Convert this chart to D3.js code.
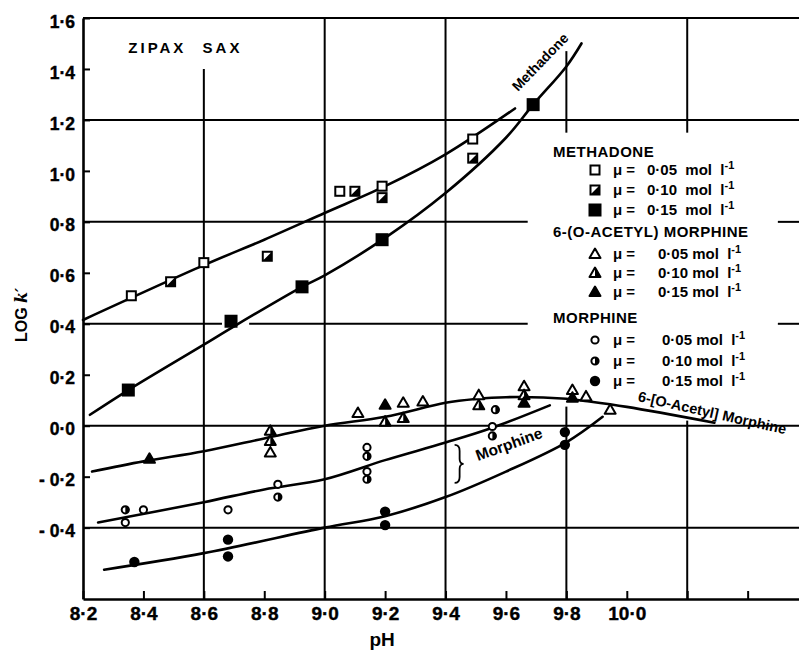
<!DOCTYPE html>
<html>
<head>
<meta charset="utf-8">
<script src="https://cdn.jsdelivr.net/npm/d3@7"></script>
<style>
body { margin: 0; background: #fff; }
svg { display: block; font-family: "Liberation Sans", Arial, sans-serif; font-weight: bold; }
</style>
</head>
<body>
<svg id="chart" width="799" height="652"></svg>
<script>
// measured points, [pH, log k']
var methadone05 = [[8.36, 0.51], [8.60, 0.64], [9.05, 0.92], [9.19, 0.94], [9.49, 1.125]];
var methadone10 = [[8.49, 0.565], [8.81, 0.665], [9.10, 0.92], [9.19, 0.895], [9.49, 1.05]];
var methadone15 = [[8.35, 0.14], [8.69, 0.41], [8.925, 0.545], [9.19, 0.73], [9.69, 1.26]];

var acetyl05 = [[8.82, -0.105], [9.11, 0.05], [9.26, 0.09], [9.325, 0.095], [9.51, 0.12], [9.66, 0.155], [9.82, 0.14], [9.865, 0.115], [9.945, 0.063]];
var acetyl10 = [[8.82, -0.02], [8.82, -0.06], [9.20, 0.016], [9.26, 0.03], [9.51, 0.08], [9.66, 0.12]];
var acetyl15 = [[8.42, -0.13], [9.20, 0.082], [9.66, 0.09], [9.82, 0.11]];

var morphine05 = [[8.34, -0.38], [8.40, -0.33], [8.68, -0.33], [8.845, -0.23], [9.14, -0.085], [9.14, -0.18], [9.555, -0.003]];
var morphine10 = [[8.34, -0.33], [8.845, -0.28], [9.14, -0.12], [9.14, -0.21], [9.555, -0.04], [9.565, 0.063]];
var morphine15 = [[8.37, -0.535], [8.68, -0.447], [8.68, -0.513], [9.20, -0.337], [9.20, -0.39], [9.795, -0.025], [9.795, -0.075]];

// hand drawn curves
var curveMethadoneUpper = [[8.2, 0.415], [8.6, 0.63], [8.8, 0.73], [9.0, 0.835], [9.2, 0.94], [9.4, 1.065], [9.63, 1.245]];
var curveMethadoneLower = [[8.223, 0.043], [8.35, 0.14], [8.6, 0.318], [8.7, 0.39], [8.925, 0.545], [9.0, 0.59], [9.2, 0.737], [9.4, 0.913], [9.6, 1.13], [9.69, 1.26], [9.8, 1.41], [9.85, 1.5]];
var curveAcetyl = [[8.23, -0.18], [8.4, -0.14], [8.6, -0.10], [8.8, -0.05], [9.0, 0.0], [9.2, 0.035], [9.4, 0.09], [9.5, 0.105], [9.6, 0.112], [9.8, 0.106], [9.87, 0.096], [10.0, 0.074], [10.29, 0.012]];
var curveMorphineUpper = [[8.25, -0.38], [8.6, -0.30], [8.8, -0.25], [9.0, -0.21], [9.2, -0.135], [9.4, -0.066], [9.55, -0.01], [9.745, 0.08]];
var curveMorphineLower = [[8.27, -0.565], [8.6, -0.5], [9.0, -0.4], [9.2, -0.355], [9.4, -0.28], [9.6, -0.18], [9.8, -0.065], [9.92, 0.035]];

var xTickValues = [8.2, 8.4, 8.6, 8.8, 9.0, 9.2, 9.4, 9.6, 9.8, 10.0, 10.2, 10.4];
var xLabelled = [8.2, 8.4, 8.6, 8.8, 9.0, 9.2, 9.4, 9.6, 9.8, 10.0];
var yTickValues = [-0.4, -0.2, 0.0, 0.2, 0.4, 0.6, 0.8, 1.0, 1.2, 1.4, 1.6];

var legendGroups = ["METHADONE", "6-(O-ACETYL) MORPHINE", "MORPHINE"];
var ionicStrengths = ["0·05", "0·10", "0·15"];

var svg = d3.select("#chart");
var x = d3.scaleLinear().domain([8.2, 10.57]).range([83, 799]);
var y = d3.scaleLinear().domain([-0.68, 1.6]).range([599, 18]);

function fmt(d) {
	var s = d3.format(".1f")(Math.abs(d)).replace(".", "·");
	return d < -1e-9 ? "- " + s : s;
}

// grid pieces, some are interrupted by the key and the labels
var gridV = [
	{ at: 8.6, from: 1.4, to: -0.68 },
	{ at: 9.0, from: 1.6, to: -0.68 },
	{ at: 9.4, from: 1.6, to: -0.68 },
	{ at: 9.8, from: 1.47, to: 1.15 },
	{ at: 9.8, from: 0.075, to: -0.68 },
	{ at: 10.2, from: 1.6, to: 1.15 },
	{ at: 10.2, from: 0.02, to: -0.68 }
];
var gridH = [
	{ at: 1.6, from: 8.2, to: 10.57 },
	{ at: 1.2, from: 8.2, to: 10.57 },
	{ at: 0.8, from: 8.2, to: 9.672 },
	{ at: 0.8, from: 10.5, to: 10.57 },
	{ at: 0.4, from: 8.2, to: 8.66 },
	{ at: 0.4, from: 8.75, to: 9.672 },
	{ at: 0.4, from: 10.5, to: 10.57 },
	{ at: 0.0, from: 8.2, to: 10.57 },
	{ at: -0.4, from: 8.2, to: 10.57 }
];

var grid = svg.append("g").attr("stroke", "#000").attr("stroke-width", 2);
grid.selectAll("line.v").data(gridV).enter().append("line")
	.attr("x1", function(d) { return x(d.at); }).attr("x2", function(d) { return x(d.at); })
	.attr("y1", function(d) { return y(d.from); }).attr("y2", function(d) { return y(d.to); });
grid.selectAll("line.h").data(gridH).enter().append("line")
	.attr("y1", function(d) { return y(d.at); }).attr("y2", function(d) { return y(d.at); })
	.attr("x1", function(d) { return x(d.from); }).attr("x2", function(d) { return x(d.to); });

// axes
var xAxis = svg.append("g")
	.attr("transform", "translate(0," + y(-0.68) + ")")
	.call(d3.axisBottom(x).tickValues(xTickValues).tickSize(-8).tickSizeOuter(0).tickPadding(8)
		.tickFormat(function(d) { return xLabelled.indexOf(d) >= 0 ? fmt(d) : ""; }));
var yAxis = svg.append("g")
	.attr("transform", "translate(" + x(8.2) + ",0)")
	.call(d3.axisLeft(y).tickValues(yTickValues).tickSize(-7).tickSizeOuter(0).tickPadding(8).tickFormat(fmt));

[xAxis, yAxis].forEach(function(a) {
	a.select(".domain").attr("stroke", "#000").attr("stroke-width", 2.6);
	a.selectAll(".tick line").attr("stroke", "#000").attr("stroke-width", 2);
	a.selectAll("text").attr("fill", "#000").attr("font-family", "Liberation Sans, Arial, sans-serif").attr("font-weight", "bold")
		.attr("stroke", "#000").attr("stroke-width", 0.4);
});
xAxis.selectAll("text").attr("font-size", 19);
yAxis.selectAll("text").attr("font-size", 17.5).attr("dy", "0.52em");

// axis titles
svg.append("text")
	.attr("x", x(9.19)).attr("y", 646)
	.attr("text-anchor", "middle").attr("font-size", 19)
	.text("pH");
var ytitle = svg.append("text")
	.attr("transform", "translate(27," + y(0.435) + ") rotate(-90)")
	.attr("text-anchor", "middle").attr("font-size", 16);
ytitle.append("tspan").text("LOG ");
ytitle.append("tspan").attr("font-style", "italic").attr("font-family", "DejaVu Serif, serif").text("k′");

svg.append("text")
	.attr("x", x(8.35)).attr("y", y(1.463))
	.attr("font-size", 15).attr("letter-spacing", 3).attr("word-spacing", 9)
	.text("ZIPAX SAX");

// curves
var line = d3.line()
	.x(function(d) { return x(d[0]); })
	.y(function(d) { return y(d[1]); })
	.curve(d3.curveCatmullRom.alpha(0.5));
svg.append("g").attr("fill", "none").attr("stroke", "#000").attr("stroke-width", 2.6).attr("stroke-linecap", "round")
	.selectAll("path")
	.data([curveMethadoneUpper, curveMethadoneLower, curveAcetyl, curveMorphineUpper, curveMorphineLower])
	.enter().append("path")
	.attr("d", line);

// markers
function marker(g, shape, fill, cx, cy) {
	var m = g.append("g").attr("transform", "translate(" + cx + "," + cy + ")");
	if (shape == "square") {
		var s = fill == "full" ? 5.5 : 4.5;
		m.append("rect").attr("x", -s).attr("y", -s).attr("width", 2 * s).attr("height", 2 * s)
			.attr("fill", fill == "full" ? "#000" : "#fff").attr("stroke", "#000").attr("stroke-width", 2);
		if (fill == "half") {
			m.append("path").attr("d", "M4.5,-4.5L4.5,4.5L-4.5,4.5Z").attr("fill", "#000");
		}
	}
	else if (shape == "triangle") {
		var p = "M0,-5.5L5.5,4L-5.5,4Z";
		m.append("path").attr("d", p)
			.attr("fill", fill == "full" ? "#000" : "#fff").attr("stroke", "#000").attr("stroke-width", 2).attr("stroke-linejoin", "round");
		if (fill == "half") {
			m.append("path").attr("d", "M0,-5.5L5.5,4L0,4Z").attr("fill", "#000");
		}
	}
	else {
		if (fill == "full") {
			m.append("circle").attr("r", 5.2).attr("fill", "#000");
		}
		else {
			m.append("circle").attr("r", 3.6).attr("fill", "#fff").attr("stroke", "#000").attr("stroke-width", 2);
			if (fill == "half") {
				m.append("path").attr("d", "M0,-3.6A3.6,3.6 0 0 1 0,3.6Z").attr("fill", "#000");
			}
		}
	}
}

var series = [
	{ data: methadone05, shape: "square", fill: "open" },
	{ data: methadone10, shape: "square", fill: "half" },
	{ data: methadone15, shape: "square", fill: "full" },
	{ data: acetyl05, shape: "triangle", fill: "open" },
	{ data: acetyl10, shape: "triangle", fill: "half" },
	{ data: acetyl15, shape: "triangle", fill: "full" },
	{ data: morphine05, shape: "circle", fill: "open" },
	{ data: morphine10, shape: "circle", fill: "half" },
	{ data: morphine15, shape: "circle", fill: "full" }
];
var markers = svg.append("g");
series.forEach(function(s) {
	s.data.forEach(function(d) {
		marker(markers, s.shape, s.fill, x(d[0]), y(d[1]));
	});
});

// curve labels
svg.append("text")
	.attr("transform", "translate(" + x(9.713) + "," + y(1.427) + ") rotate(-46)")
	.attr("text-anchor", "middle").attr("dy", "0.35em").attr("font-size", 14)
	.text("Methadone");
svg.append("text")
	.attr("transform", "translate(" + x(9.61) + "," + y(-0.072) + ") rotate(-20)")
	.attr("text-anchor", "middle").attr("dy", "0.35em").attr("font-size", 15.5)
	.text("Morphine");
// curly bracket grouping the two morphine curves
svg.append("path")
	.attr("transform", "translate(" + x(9.44) + "," + y(-0.15) + ")")
	.attr("d", "M-3,-19Q2,-19 2,-13L2,-5Q2,0 6,0Q2,0 2,5L2,13Q2,19 -3,19")
	.attr("fill", "none").attr("stroke", "#000").attr("stroke-width", 1.8);
svg.append("text")
	.attr("transform", "translate(" + x(10.283) + "," + y(0.051) + ") rotate(12.7)")
	.attr("text-anchor", "middle").attr("dy", "0.35em").attr("font-size", 14.5)
	.text("6-[O-Acetyl] Morphine");

// key
var keyShapes = ["square", "triangle", "circle"];
var keyFills = ["open", "half", "full"];
var keyTitleY = [157, 237, 323];
var keyRowY = [[170, 190, 210], [254, 273, 292], [340, 361, 381]];
var keyValueX = [647, 658, 662];
var key = svg.append("g");
legendGroups.forEach(function(name, i) {
	key.append("text").attr("x", 553).attr("y", keyTitleY[i])
		.attr("font-size", 15).attr("letter-spacing", 0.5).text(name);
	ionicStrengths.forEach(function(v, j) {
		var cy = keyRowY[i][j];
		marker(key, keyShapes[i], keyFills[j], 595, cy);
		key.append("text").attr("x", 613).attr("y", cy + 5).attr("font-size", 15).text("μ =");
		var t = key.append("text").attr("x", keyValueX[i]).attr("y", cy + 5).attr("font-size", 15).attr("xml:space", "preserve");
		t.append("tspan").text(v + (i == 0 ? "  mol  l" : " mol  l"));
		t.append("tspan").attr("dy", -6).attr("font-size", 11).text("-1");
	});
});
</script>
</body>
</html>
